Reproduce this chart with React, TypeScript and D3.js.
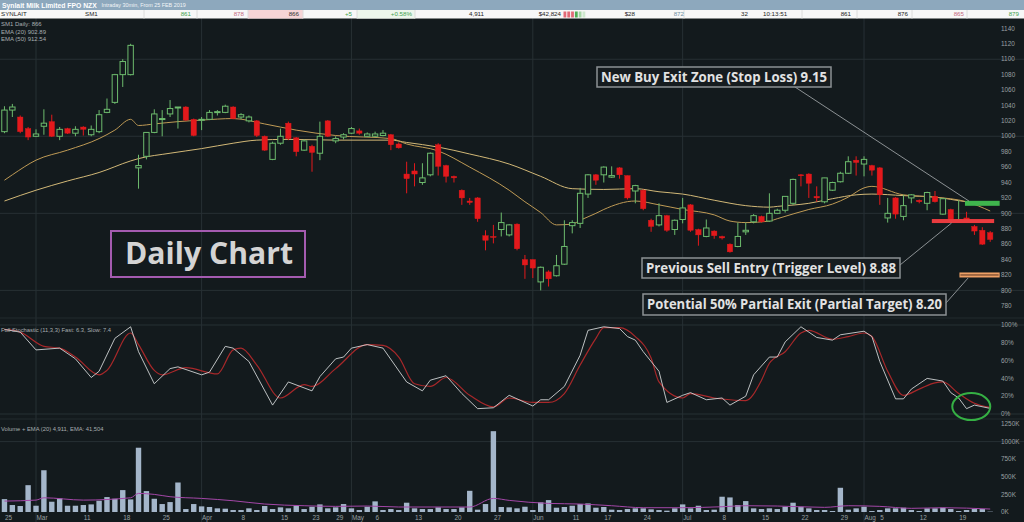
import { useEffect, useRef } from 'react'
import * as d3 from 'd3'

const W = 1024
const H = 522

// daily candles, [open, high, low, close], first bar is 25 Feb 2019
const candles: [number, number, number, number][] = [
  [1006, 1039, 1004, 1034], [1034, 1042, 1025, 1038], [1025, 1027, 1004, 1006], [1010, 1012, 995, 999],
  [1000, 1009, 999, 1003], [1013, 1035, 1002, 1017], [1019, 1028, 999, 1000], [1000, 1012, 995, 1009],
  [1010, 1011, 1003, 1004], [1004, 1013, 1000, 1009], [1012, 1013, 1001, 1009], [1002, 1014, 1000, 1009],
  [1006, 1034, 1004, 1028], [1031, 1049, 1030, 1035], [1044, 1081, 1042, 1080], [1080, 1100, 1064, 1097],
  [1080, 1120, 1079, 1118], [959, 976, 932, 962], [974, 1005, 970, 1005], [1005, 1035, 1004, 1029],
  [1022, 1034, 1000, 1023], [1029, 1047, 1025, 1036], [1037, 1038, 1010, 1038], [1038, 1039, 1020, 1021],
  [1022, 1023, 1000, 1001], [1021, 1025, 1008, 1022], [1022, 1034, 1021, 1031], [1031, 1034, 1027, 1032],
  [1031, 1041, 1030, 1039], [1038, 1039, 1022, 1023], [1025, 1030, 1022, 1028], [1020, 1027, 1018, 1025],
  [1020, 1021, 999, 1001], [1000, 1001, 981, 982], [970, 993, 969, 991], [991, 1010, 989, 1000],
  [1017, 1019, 995, 997], [998, 999, 974, 980], [982, 996, 981, 994], [987, 989, 954, 979],
  [978, 1019, 969, 1000], [1020, 1021, 999, 1000], [994, 1000, 991, 997], [999, 1004, 996, 1002],
  [1004, 1012, 1003, 1010], [1007, 1010, 1002, 1004], [1000, 1005, 999, 1003], [1000, 1006, 999, 1003],
  [1001, 1008, 1000, 1004], [1002, 1003, 982, 989], [990, 992, 984, 985], [951, 967, 926, 945],
  [955, 965, 935, 951], [940, 965, 937, 946], [950, 979, 948, 978], [989, 991, 949, 961],
  [962, 963, 940, 948], [948, 949, 940, 946], [930, 931, 911, 920], [916, 920, 911, 914],
  [920, 921, 889, 893], [871, 878, 852, 865], [870, 885, 861, 869], [879, 901, 870, 888],
  [872, 886, 870, 885], [886, 887, 852, 854], [840, 846, 815, 833], [840, 840, 816, 829],
  [811, 831, 800, 830], [824, 826, 805, 815], [819, 846, 818, 832], [834, 891, 833, 857],
  [884, 891, 874, 888], [887, 933, 881, 926], [925, 951, 920, 950], [950, 951, 937, 943],
  [950, 961, 940, 960], [947, 961, 946, 949], [959, 960, 945, 950], [949, 949, 918, 920],
  [929, 937, 913, 936], [930, 931, 904, 906], [891, 893, 876, 883], [885, 913, 883, 897],
  [897, 898, 876, 878], [879, 892, 872, 891], [892, 920, 887, 907], [911, 912, 876, 878],
  [879, 880, 858, 872], [870, 892, 869, 881], [877, 878, 867, 871], [870, 871, 866, 868],
  [860, 861, 849, 850], [857, 888, 856, 870], [876, 888, 872, 878], [889, 899, 887, 897],
  [896, 897, 888, 889], [890, 926, 889, 900], [900, 906, 899, 904], [904, 922, 901, 922],
  [913, 945, 911, 944], [950, 951, 935, 949], [951, 952, 920, 939], [922, 935, 915, 920],
  [915, 946, 913, 946], [930, 941, 929, 940], [941, 954, 940, 952], [952, 974, 951, 967],
  [969, 974, 949, 966], [964, 974, 948, 970], [962, 963, 949, 956], [959, 960, 911, 924],
  [894, 920, 888, 900], [920, 921, 893, 899], [896, 924, 891, 910], [920, 925, 913, 924],
  [917, 918, 913, 915], [913, 928, 904, 927], [922, 929, 914, 915], [899, 919, 898, 919],
  [905, 906, 888, 889], [890, 917, 888, 892], [894, 902, 889, 890], [883, 885, 872, 877],
  [878, 882, 859, 860], [875, 877, 863, 866],
]

// volume in thousands of shares
const volumes = [
  183, 99, 85, 381, 89, 593, 146, 193, 89, 89, 99, 108, 160, 212, 188, 311, 179, 913, 297, 188,
  113, 141, 419, 42, 113, 80, 71, 52, 47, 28, 28, 52, 28, 85, 42, 66, 52, 89, 42, 75,
  108, 52, 66, 113, 52, 28, 75, 151, 28, 42, 28, 132, 52, 42, 42, 66, 42, 42, 66, 301,
  33, 113, 1148, 71, 66, 52, 75, 28, 137, 169, 61, 71, 89, 113, 122, 61, 71, 33, 28, 42,
  52, 52, 38, 28, 19, 52, 108, 52, 89, 28, 33, 217, 207, 99, 155, 52, 42, 52, 42, 75,
  132, 75, 52, 28, 28, 14, 344, 33, 52, 75, 14, 28, 52, 52, 61, 28, 14, 52, 52, 61,
  42, 14, 28, 42, 42, 5,
]

// [day index, value]
const ema20: [number, number][] = [
  [0, 943], [1, 950], [4, 969], [8, 982], [12, 997], [14, 1008], [16, 1022], [17, 1014], [19, 1016],
  [22, 1019], [25, 1021], [29, 1023], [33, 1016], [37, 1008], [42, 1001], [49, 997], [51, 990],
  [55, 981], [59, 960], [64, 930], [66, 915], [68, 901], [70, 885], [72, 886], [73, 891], [75, 900],
  [76, 905], [80, 916], [83, 911], [86, 905], [90, 898], [92, 890], [94, 888], [97, 890], [98, 893],
  [102, 905], [105, 912], [107, 921], [109, 933], [110, 935], [114, 924], [118, 921], [122, 915], [125, 903],
]
const ema50: [number, number][] = [
  [0, 916], [4, 930], [8, 942], [12, 953], [16, 968], [17, 971], [21, 978], [25, 984], [29, 991],
  [32, 995], [36, 996], [42, 995], [49, 995], [51, 992], [55, 986], [59, 977], [64, 964], [68, 948],
  [72, 932], [76, 931], [80, 932], [83, 928], [86, 925], [90, 917], [94, 910], [97, 908], [98, 909],
  [102, 913], [105, 919], [108, 924], [110, 925], [114, 923], [118, 921], [122, 915], [125, 912],
]

const stochFast: [number, number][] = [
  [0, 95], [2, 92], [4, 72], [7, 74], [9, 62], [11, 41], [12, 48], [14, 85], [16, 98], [17, 70],
  [19, 34], [21, 51], [22, 53], [25, 44], [26, 47], [28, 76], [29, 74], [31, 59], [34, 10], [36, 36],
  [39, 26], [40, 42], [42, 62], [43, 64], [44, 74], [46, 78], [48, 74], [51, 36], [53, 26], [54, 38],
  [56, 43], [58, 23], [60, 6], [62, 7], [64, 21], [67, 9], [68, 16], [69, 16], [71, 31], [73, 66],
  [74, 94], [76, 98], [78, 96], [79, 87], [80, 83], [81, 70], [83, 48], [84, 13], [86, 21], [87, 24],
  [89, 16], [91, 18], [92, 10], [94, 20], [95, 44], [97, 64], [98, 64], [99, 81], [101, 98], [103, 86],
  [105, 83], [106, 89], [109, 93], [110, 87], [111, 59], [113, 17], [114, 17], [115, 28], [117, 40],
  [119, 37], [120, 24], [121, 18], [122, 6], [123, 10], [125, 6.3],
]
const stochSlow: [number, number][] = [
  [0, 95], [2, 92], [5, 76], [7, 74], [9, 64], [12, 44], [13, 49], [16, 91], [17, 78], [19, 49],
  [20, 44], [23, 52], [27, 45], [29, 72], [30, 74], [32, 55], [35, 18], [38, 33], [39, 31], [42, 51],
  [46, 78], [48, 77], [50, 64], [52, 34], [54, 31], [56, 41], [59, 21], [62, 8], [64, 18], [67, 13],
  [69, 13], [71, 23], [73, 55], [75, 85], [76, 97], [78, 97], [80, 87], [82, 63], [83, 36], [86, 18],
  [87, 23], [90, 18], [92, 16], [94, 15], [96, 38], [97, 57], [99, 70], [101, 91], [102, 94], [105, 84],
  [107, 87], [109, 91], [110, 87], [112, 48], [114, 21], [116, 28], [118, 35], [119, 36], [121, 23],
  [123, 12], [125, 7.4],
]

const volumeEma: [number, number][] = [
  [0, 155], [4, 169], [5, 202], [10, 169], [16, 202], [17, 264], [19, 250], [21, 217], [25, 193],
  [29, 160], [33, 113], [38, 89], [42, 80], [46, 85], [50, 71], [59, 71], [62, 193], [64, 165],
  [69, 122], [73, 113], [77, 89], [81, 61], [86, 61], [91, 75], [94, 89], [98, 85], [104, 66],
  [107, 89], [111, 80], [115, 52], [119, 61], [125, 42],
]

const priceTicks = [780, 800, 820, 840, 860, 880, 900, 920, 940, 960, 980, 1000, 1020, 1040, 1060, 1080, 1100, 1120, 1140]
const priceGrid = [800, 900, 1000, 1100]
const stochTicks = [0, 20, 40, 60, 80, 100]
const volumeTicks = [0, 250, 500, 750, 1000, 1250]
const monthStarts = [4, 25, 44, 67, 86, 109]
const dateTicks: [number, string][] = [
  [0, '25'], [4, 'Mar'], [10, '11'], [15, '18'], [20, '25'], [25, 'Apr'], [30, '8'], [35, '15'],
  [39, '23'], [42, '29'], [44, 'May'], [47, '6'], [52, '13'], [57, '20'], [62, '27'], [67, 'Jun'],
  [72, '11'], [76, '17'], [81, '24'], [86, 'Jul'], [91, '8'], [96, '15'], [101, '22'], [106, '29'],
  [109, 'Aug'], [111, '5'], [116, '12'], [121, '19'],
]

// trade levels drawn on the price panel
const stopLevel = 913
const triggerLevel = 890
const targetLevel = 820

const quoteTexts = ['SYNLAIT', 'SM1', '861', '878', '866', '+5', '+0.58%', '4,911', '$42,824', '$28', '872', '32', '10:13:51', '861', '876', '865', '879']
const quoteLayout: [number, string, string][] = [
  [1, 'start', '#222'], [85, 'start', '#222'], [191, 'end', '#3fa34d'], [244, 'end', '#c46a7e'],
  [299, 'end', '#333'], [352, 'end', '#3fa34d'], [412, 'end', '#3fa34d'], [484, 'end', '#222'],
  [561, 'end', '#222'], [635, 'end', '#222'], [684, 'end', '#6e8fa2'], [748, 'end', '#222'],
  [763, 'start', '#222'], [851, 'end', '#222'], [908, 'end', '#222'], [964, 'end', '#c46a7e'],
  [1019, 'end', '#3fa34d'],
]

const BG = '#131a1d'
const GRID = '#273034'
const UP = '#6dbb6d'
const DOWN = '#e3191c'
const SMALL = "'Liberation Sans', Arial, sans-serif"
const BOLD = "'Open Sans', sans-serif"

export default function App() {
  const svgRef = useRef<SVGSVGElement>(null)

  useEffect(() => {
    if (!svgRef.current) return
    const svg = d3.select(svgRef.current)
    svg.selectAll('*').remove()

    const x = d3.scaleLinear().domain([0, 125]).range([4.46, 990.2])
    const yP = d3.scaleLinear().domain([780, 1140]).range([305.8, 28.4])
    const yS = d3.scaleLinear().domain([0, 100]).range([414, 325])
    const yV = d3.scaleLinear().domain([0, 1250]).range([512, 424])

    svg.append('rect').attr('width', W).attr('height', H).attr('fill', BG)

    // grid
    const grid = svg.append('g').attr('stroke', GRID).attr('stroke-width', 1)
    grid.selectAll('line.v').data(monthStarts).join('line')
      .attr('x1', d => x(d)).attr('x2', d => x(d)).attr('y1', 18).attr('y2', H)
    grid.selectAll('line.p').data(priceGrid).join('line')
      .attr('x1', 0).attr('x2', W).attr('y1', d => yP(d)).attr('y2', d => yP(d))
    grid.selectAll('line.s').data([0, 100]).join('line')
      .attr('x1', 0).attr('x2', W).attr('y1', d => yS(d)).attr('y2', d => yS(d))
    grid.append('line').attr('x1', 0).attr('x2', W).attr('y1', yV(1000)).attr('y2', yV(1000))
    grid.selectAll('line.sep').data([318, 419]).join('line')
      .attr('x1', 0).attr('x2', W).attr('y1', d => d).attr('y2', d => d).attr('stroke', '#222a2e')

    // moving averages
    const line = d3.line<[number, number]>().x(d => x(d[0])).y(d => yP(d[1])).curve(d3.curveMonotoneX)
    svg.append('path').attr('d', line(ema50)).attr('fill', 'none').attr('stroke', '#d2b877').attr('stroke-width', 1)
    svg.append('path').attr('d', line(ema20)).attr('fill', 'none').attr('stroke', '#bf9a55').attr('stroke-width', 1)

    // candles
    const bw = 5.4
    const cg = svg.append('g')
    cg.selectAll('line').data(candles).join('line')
      .attr('x1', (_, i) => x(i)).attr('x2', (_, i) => x(i))
      .attr('y1', d => yP(d[1])).attr('y2', d => yP(d[2]))
      .attr('stroke', d => (d[3] >= d[0] ? UP : DOWN)).attr('stroke-width', 1)
    cg.selectAll('rect').data(candles).join('rect')
      .attr('x', (_, i) => x(i) - bw / 2)
      .attr('width', bw)
      .attr('y', d => yP(Math.max(d[0], d[3])))
      .attr('height', d => Math.max(1, Math.abs(yP(d[0]) - yP(d[3]))))
      .attr('fill', d => (d[3] >= d[0] ? BG : DOWN))
      .attr('stroke', d => (d[3] >= d[0] ? UP : DOWN))
      .attr('stroke-width', d => (d[3] >= d[0] ? 1 : 0.4))

    // level bars
    svg.append('rect').attr('x', x(121.8)).attr('width', x(126.2) - x(121.8))
      .attr('y', yP(stopLevel) - 2.5).attr('height', 5).attr('fill', '#3fb54d')
    svg.append('rect').attr('x', x(117.6)).attr('width', x(125.5) - x(117.6))
      .attr('y', yP(triggerLevel) - 2).attr('height', 4).attr('fill', '#ea3b3f')
    svg.append('rect').attr('x', x(121.1)).attr('width', x(126.2) - x(121.1))
      .attr('y', yP(targetLevel) - 2.5).attr('height', 5).attr('fill', '#eea066')
    svg.append('line').attr('x1', x(121.1) + 1).attr('x2', x(126.2) - 1)
      .attr('y1', yP(targetLevel)).attr('y2', yP(targetLevel)).attr('stroke', '#5a3420').attr('stroke-width', 1)

    // leader lines
    const lead = svg.append('g').attr('stroke', '#a9aeb1').attr('stroke-width', 0.8)
    lead.append('line').attr('x1', 795).attr('y1', 87).attr('x2', x(122.3)).attr('y2', yP(916))
    lead.append('line').attr('x1', x(120.1)).attr('y1', yP(triggerLevel) + 2).attr('x2', 900).attr('y2', 265)
    lead.append('line').attr('x1', x(122.2)).attr('y1', yP(targetLevel) + 3).attr('x2', 946).attr('y2', 303)

    // annotation boxes
    const boxes: [number, number, number, number, string, number][] = [
      [597, 67, 234, 20, 'New Buy Exit Zone (Stop Loss) 9.15', 226],
      [642, 258, 258, 20, 'Previous Sell Entry (Trigger Level) 8.88', 250],
      [643, 294, 303, 21, 'Potential 50% Partial Exit (Partial Target) 8.20', 295],
    ]
    boxes.forEach(([bx, by, bwid, bh, label, tl]) => {
      svg.append('rect').attr('x', bx).attr('y', by).attr('width', bwid).attr('height', bh)
        .attr('fill', '#161c1f').attr('stroke', '#8c9194').attr('stroke-width', 1.5)
      svg.append('text').attr('x', bx + 4).attr('y', by + 14.6)
        .attr('font-family', BOLD).attr('font-weight', 700).attr('font-size', 14)
        .attr('fill', '#e2e2e2').attr('textLength', tl).attr('lengthAdjust', 'spacingAndGlyphs')
        .text(label)
    })

    svg.append('rect').attr('x', 111).attr('y', 231).attr('width', 194).attr('height', 46)
      .attr('fill', 'none').attr('stroke', '#a45bb0').attr('stroke-width', 2)
    svg.append('text').attr('x', 125).attr('y', 263.5)
      .attr('font-family', BOLD).attr('font-weight', 700).attr('font-size', 30)
      .attr('fill', '#d4d4d4').attr('textLength', 168).attr('lengthAdjust', 'spacingAndGlyphs')
      .text('Daily Chart')

    // stochastic
    const sLine = d3.line<[number, number]>().x(d => x(d[0])).y(d => yS(d[1]))
    svg.append('path').attr('d', sLine.curve(d3.curveMonotoneX)(stochSlow)).attr('fill', 'none')
      .attr('stroke', '#a8282a').attr('stroke-width', 1.2)
    svg.append('path').attr('d', sLine.curve(d3.curveLinear)(stochFast)).attr('fill', 'none')
      .attr('stroke', '#cfd3d4').attr('stroke-width', 0.9)
    svg.append('ellipse').attr('cx', x(122.6)).attr('cy', yS(8.3)).attr('rx', 19).attr('ry', 13.5)
      .attr('fill', 'none').attr('stroke', '#35b044').attr('stroke-width', 2)

    // volume
    svg.append('g').selectAll('rect').data(volumes).join('rect')
      .attr('x', (_, i) => x(i) - bw / 2).attr('width', bw)
      .attr('y', d => yV(d)).attr('height', d => yV(0) - yV(d))
      .attr('fill', '#a4b6ca')
    const vLine = d3.line<[number, number]>().x(d => x(d[0])).y(d => yV(d[1])).curve(d3.curveMonotoneX)
    svg.append('path').attr('d', vLine(volumeEma)).attr('fill', 'none')
      .attr('stroke', '#a447a8').attr('stroke-width', 1)

    // axis labels
    const axis = svg.append('g').attr('font-family', SMALL).attr('font-size', 6.4).attr('fill', '#9aa0a3')
    axis.selectAll('text.p').data(priceTicks).join('text')
      .attr('x', 1001).attr('y', d => yP(d) + 2.2).text(d => d)
    axis.selectAll('text.s').data(stochTicks).join('text')
      .attr('x', 1001).attr('y', d => yS(d) + 2.2).text(d => `${d}%`)
    axis.selectAll('text.v').data(volumeTicks).join('text')
      .attr('x', 1001).attr('y', d => yV(d) + 2.2).text(d => `${d}K`)
    axis.selectAll('text.d').data(dateTicks).join('text')
      .attr('x', d => x(d[0]) + 0.5).attr('y', 519.5).text(d => d[1])

    const info = svg.append('g').attr('font-family', SMALL).attr('font-size', 6).attr('fill', '#a7adb0')
    ;['SM1 Daily: 866', 'EMA (20) 902.89', 'EMA (50) 912.54'].forEach((t, k) => {
      info.append('text').attr('x', 1).attr('y', 26 + k * 7.7).text(t)
    })
    info.append('text').attr('x', 1).attr('y', 332).attr('font-size', 5.8)
      .text('Full Stochastic (11,3,3) Fast: 6.3, Slow: 7.4')
    info.append('text').attr('x', 1).attr('y', 430.5).attr('font-size', 5.8)
      .text('Volume + EMA (20) 4,911, EMA: 41,504')

    // header
    svg.append('rect').attr('width', W).attr('height', 10).attr('fill', '#8da8bd')
    svg.append('text').attr('x', 2).attr('y', 7.6).attr('font-family', SMALL).attr('font-weight', 700)
      .attr('font-size', 6.8).attr('fill', '#ffffff').text('Synlait Milk Limited FPO NZX')
    svg.append('text').attr('x', 101.5).attr('y', 7.4).attr('font-family', SMALL)
      .attr('font-size', 5.4).attr('fill', '#f2f5f7').text('Intraday 30min, From 25 FEB 2019')
    svg.append('rect').attr('y', 10).attr('width', W).attr('height', 8.5).attr('fill', '#f7f7f7')
    svg.append('rect').attr('x', 248).attr('y', 10).attr('width', 55).attr('height', 8.5).attr('fill', '#f6d4d6')
    svg.append('rect').attr('x', 357).attr('y', 10).attr('width', 58).attr('height', 8.5).attr('fill', '#edf6ec')
    svg.append('g').attr('stroke', '#dcdcdc').selectAll('line')
      .data([144, 197, 248, 303, 357, 415, 684, 802, 857, 912, 967]).join('line')
      .attr('x1', d => d).attr('x2', d => d).attr('y1', 10).attr('y2', 18.5)
    const miniBars = ['#e26a78', '#e26a78', '#e26a78', '#4fae55', '#a6d7a6', '#cfe9cf']
    miniBars.forEach((c, k) => {
      svg.append('rect').attr('x', 563.5 + k * 3.8).attr('y', 11.5).attr('width', 2.8).attr('height', 6).attr('fill', c)
    })
    const q = svg.append('g').attr('font-family', SMALL).attr('font-size', 6.2)
    quoteTexts.forEach((t, k) => {
      const [qx, anchor, color] = quoteLayout[k]
      q.append('text').attr('x', qx).attr('y', 16.4).attr('text-anchor', anchor).attr('fill', color).text(t)
    })
  }, [])

  return (
    <div style={{ position: 'absolute', left: 0, top: 0 }}>
      <svg ref={svgRef} width={W} height={H} style={{ display: 'block' }} />
    </div>
  )
}
